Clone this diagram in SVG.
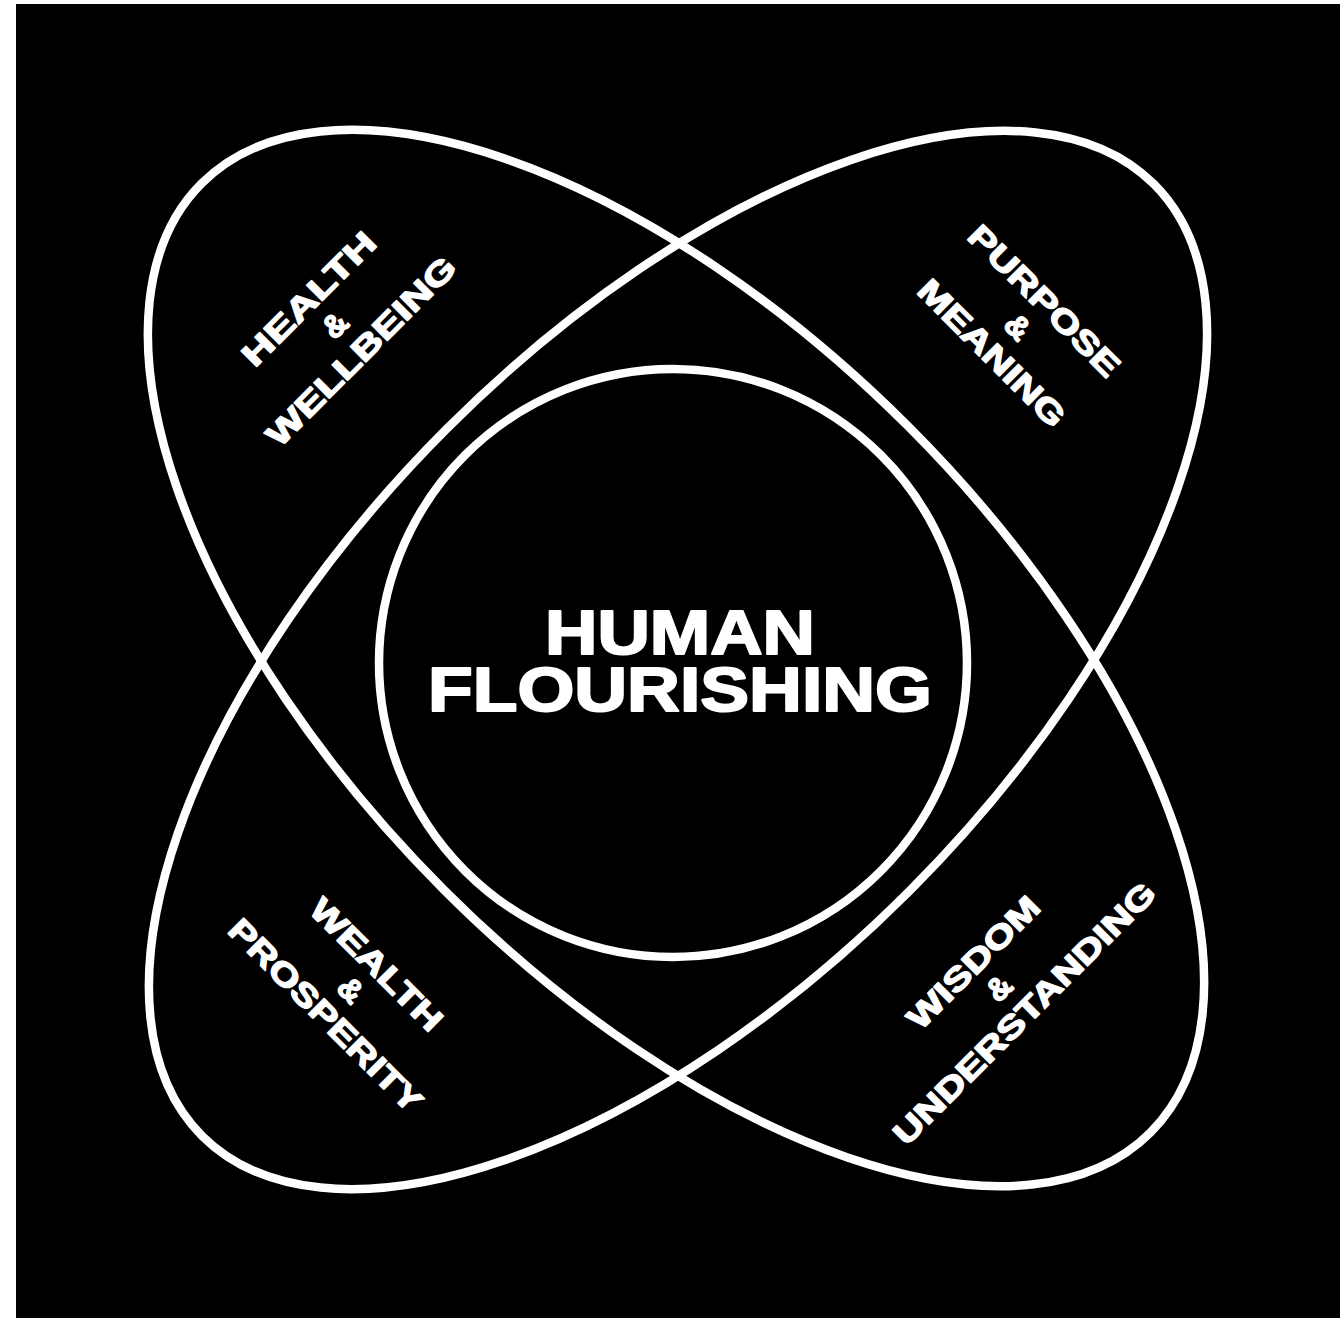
<svg xmlns="http://www.w3.org/2000/svg" width="1340" height="1318" viewBox="0 0 1340 1318">
  <style>
    .ring { fill: none; stroke: #ffffff; stroke-width: 8.5; }
    .lbl { font-family: "Liberation Sans", Arial, sans-serif; font-weight: bold; fill: #ffffff; stroke: #ffffff; stroke-width: 1.4; stroke-linejoin: round; text-anchor: middle; }
    .small { font-size: 32px; }
    .big { font-size: 63px; stroke-width: 2; }
  </style>
  <rect x="0" y="0" width="1340" height="1318" fill="#ffffff"/>
  <rect x="16" y="4" width="1324" height="1314" fill="#000000"/>

  <g id="connectors"></g>

  <g id="ellipse-health-wisdom">
    <ellipse class="ring" cx="676" cy="658" rx="671" ry="328" transform="rotate(45 676 658)"/>
  </g>
  <g id="ellipse-purpose-wealth">
    <ellipse class="ring" cx="678" cy="660" rx="673" ry="327" transform="rotate(-45 678 660)"/>
  </g>
  <g id="circle-center">
    <circle class="ring" cx="673" cy="663" r="294"/>
  </g>

  <g id="node-human-flourishing">
    <text class="lbl big" x="680" y="654" textLength="270" lengthAdjust="spacingAndGlyphs">HUMAN</text>
    <text class="lbl big" x="680" y="711" textLength="504" lengthAdjust="spacingAndGlyphs">FLOURISHING</text>
  </g>

  <g id="node-health" transform="translate(335 325) rotate(-45)">
    <text class="lbl small" x="0" y="-26" textLength="175" lengthAdjust="spacingAndGlyphs">HEALTH</text>
    <text class="lbl small" x="0" y="11">&amp;</text>
    <text class="lbl small" x="0" y="48" textLength="253" lengthAdjust="spacingAndGlyphs">WELLBEING</text>
  </g>

  <g id="node-purpose" transform="translate(1018 327) rotate(45)">
    <text class="lbl small" x="0" y="-26" textLength="200" lengthAdjust="spacingAndGlyphs">PURPOSE</text>
    <text class="lbl small" x="0" y="11">&amp;</text>
    <text class="lbl small" x="0" y="48" textLength="194" lengthAdjust="spacingAndGlyphs">MEANING</text>
  </g>

  <g id="node-wealth" transform="translate(351 990) rotate(45)">
    <text class="lbl small" x="0" y="-25" textLength="173" lengthAdjust="spacingAndGlyphs">WEALTH</text>
    <text class="lbl small" x="0" y="11">&amp;</text>
    <text class="lbl small" x="0" y="47" textLength="259" lengthAdjust="spacingAndGlyphs">PROSPERITY</text>
  </g>

  <g id="node-wisdom" transform="translate(999 988) rotate(-45)">
    <text class="lbl small" x="0" y="-25" textLength="173" lengthAdjust="spacingAndGlyphs">WISDOM</text>
    <text class="lbl small" x="0" y="11">&amp;</text>
    <text class="lbl small" x="0" y="47" textLength="356" lengthAdjust="spacingAndGlyphs">UNDERSTANDING</text>
  </g>
</svg>
